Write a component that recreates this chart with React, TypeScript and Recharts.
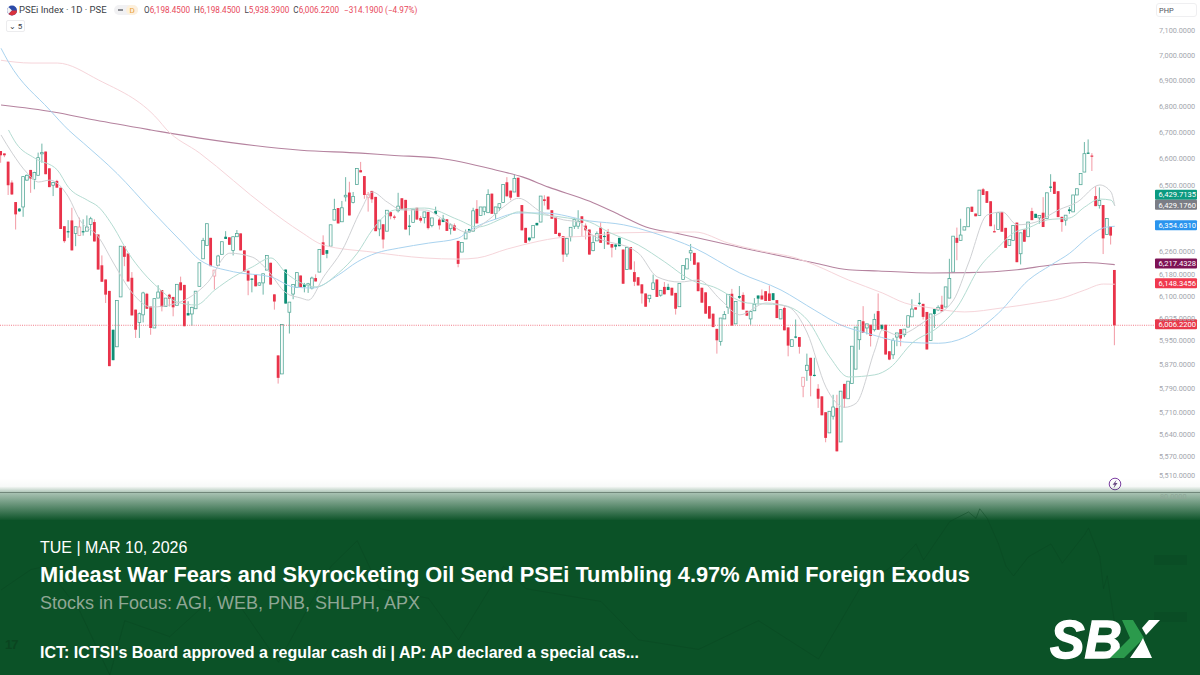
import React from "react";
import { ComposedChart, LineChart, Bar, Line, XAxis, YAxis, ReferenceLine } from "recharts";

type Row = [number, number, number, number, string];
// rows: body top, body bottom, high, low, kind (G hollow green, g solid green, R solid red, r hollow red)
const candlesA: Row[] = [
[6633,6617,6633,6589,"R"],[6624,6617,6624,6610,"R"],[6593,6505,6593,6469,"R"],[6515,6471,6523,6469,"R"],[6443,6398,6443,6343,"R"],
[6419,6409,6421,6407,"g"],[6537,6425,6537,6389,"G"],[6542,6524,6545,6522,"G"],[6562,6530,6562,6477,"R"],[6552,6527,6555,6490,"G"],
[6608,6542,6627,6542,"G"],[6627,6624,6661,6589,"G"],[6631,6546,6631,6546,"R"],[6568,6498,6568,6498,"R"],[6515,6505,6517,6465,"G"],
[6521,6496,6525,6496,"R"],[6496,6345,6496,6345,"R"],[6355,6301,6355,6295,"R"],[6337,6335,6377,6313,"g"],[6376,6268,6422,6268,"R"],
[6353,6329,6353,6283,"G"],[6352,6321,6386,6321,"r"],[6337,6336,6380,6321,"g"],[6352,6337,6394,6337,"G"],[6382,6361,6389,6321,"G"],
[6370,6300,6380,6300,"R"],[6325,6200,6325,6200,"R"],[6215,6157,6250,6157,"R"],[6165,6112,6165,6083,"R"],[6125,5868,6125,5868,"R"],
[5991,5888,5991,5888,"g"],[6092,5933,6092,5933,"G"],[6283,6104,6283,6104,"G"],[6283,6245,6283,6212,"R"],[6257,6158,6257,6158,"R"],
[6171,6040,6191,6040,"R"],[6060,5991,6060,5963,"R"],[6046,6016,6050,5963,"G"],[6118,6042,6122,6016,"G"],[6115,6063,6118,6063,"R"],
[6071,5997,6071,5974,"R"],[6098,5997,6098,5997,"G"],[6121,6100,6145,6100,"G"],[6128,6069,6128,6054,"R"],[6100,6071,6100,6071,"G"],
[6112,6098,6115,6071,"R"],[6104,6068,6104,6037,"R"],[6148,6075,6148,6075,"G"],[6155,6127,6175,6127,"R"],[6146,6003,6146,6003,"R"],
[6048,6040,6089,6040,"g"],[6068,6045,6070,6005,"G"],[6124,6063,6124,6063,"G"],[6224,6141,6224,6141,"G"],[6304,6238,6313,6238,"G"],
[6364,6286,6364,6286,"G"],[6313,6212,6313,6212,"R"],[6198,6177,6198,6130,"r"],[6248,6214,6252,6214,"G"],[6299,6254,6299,6254,"G"],
[6317,6309,6337,6309,"g"],[6315,6288,6315,6288,"R"],[6317,6268,6317,6250,"G"],[6329,6317,6341,6317,"G"],[6329,6268,6329,6268,"R"],
[6268,6193,6268,6193,"R"],[6196,6161,6196,6110,"R"],[6168,6165,6170,6120,"g"],[6183,6141,6183,6141,"R"],[6153,6145,6155,6143,"G"],
[6185,6153,6185,6112,"G"],[6250,6198,6250,6198,"G"],[6224,6147,6224,6147,"R"],[6113,6088,6113,6060,"R"],[5904,5829,5904,5810,"R"],
];
const candlesB: Row[] = [
[6009,5842,6009,5842,"G"],[6200,6081,6200,6081,"g"],[6086,6051,6086,5978,"G"],[6147,6114,6147,6096,"G"],[6189,6137,6189,6137,"G"],
[6179,6138,6179,6138,"R"],[6148,6139,6153,6120,"g"],[6150,6145,6153,6118,"G"],[6170,6135,6175,6130,"G"],[6170,6158,6183,6158,"R"],
[6271,6191,6271,6191,"G"],[6297,6252,6322,6252,"R"],[6269,6256,6269,6240,"g"],[6360,6283,6360,6283,"G"],[6416,6377,6455,6377,"G"],
[6421,6365,6421,6365,"R"],[6422,6371,6447,6371,"G"],[6468,6462,6535,6445,"G"],[6478,6394,6518,6394,"R"],[6463,6441,6480,6438,"G"],
[6567,6508,6567,6508,"G"],[6561,6553,6592,6553,"R"],[6539,6469,6539,6455,"R"],[6471,6459,6480,6408,"r"],[6484,6453,6484,6440,"R"],
[6462,6337,6462,6337,"R"],[6377,6345,6377,6319,"G"],[6362,6307,6362,6275,"R"],[6413,6337,6413,6337,"G"],[6406,6391,6406,6380,"R"],
[6390,6386,6396,6379,"R"],[6428,6411,6477,6405,"G"],[6457,6416,6457,6416,"R"],[6451,6343,6451,6343,"R"],[6357,6353,6396,6322,"g"],
[6416,6369,6416,6369,"G"],[6422,6379,6422,6379,"R"],[6385,6375,6392,6368,"R"],[6407,6386,6407,6365,"G"],[6407,6348,6407,6343,"R"],
[6385,6358,6385,6351,"G"],[6410,6399,6426,6399,"g"],[6379,6358,6385,6343,"R"],[6382,6370,6396,6370,"g"],[6380,6338,6380,6338,"R"],
[6360,6346,6365,6325,"G"],[6358,6339,6365,6339,"R"],[6302,6220,6302,6208,"R"],[6296,6262,6296,6262,"G"],[6331,6309,6343,6309,"G"],
[6345,6333,6345,6333,"g"],[6411,6337,6422,6337,"G"],[6418,6365,6450,6365,"R"],[6425,6394,6425,6394,"G"],[6425,6409,6425,6395,"G"],
[6471,6404,6490,6404,"G"],[6474,6400,6474,6400,"R"],[6425,6401,6425,6381,"G"],[6437,6422,6437,6410,"G"],[6508,6441,6508,6441,"G"],
[6516,6464,6535,6464,"R"],[6485,6459,6485,6450,"R"],[6530,6480,6545,6480,"G"],[6533,6462,6533,6462,"R"],[6432,6340,6432,6340,"R"],
[6349,6295,6349,6295,"R"],[6314,6304,6314,6300,"g"],[6358,6313,6358,6313,"G"],[6367,6358,6367,6358,"g"],[6465,6370,6465,6370,"G"],
[6453,6447,6468,6430,"R"],[6463,6416,6463,6416,"R"],[6413,6382,6413,6382,"R"],[6387,6327,6387,6327,"R"],[6331,6319,6331,6315,"R"],
[6319,6253,6319,6227,"R"],[6311,6255,6311,6245,"G"],[6351,6317,6351,6300,"G"],[6379,6355,6385,6345,"G"],[6373,6355,6413,6345,"G"],
[6391,6367,6391,6317,"R"],[6357,6340,6365,6307,"R"],[6343,6253,6343,6253,"R"],
];
const candlesC: Row[] = [
[6296,6267,6320,6265,"G"],[6328,6302,6336,6302,"G"],[6350,6295,6369,6295,"R"],[6320,6317,6335,6273,"g"],[6334,6289,6345,6289,"R"],
[6291,6278,6291,6243,"R"],[6289,6281,6289,6270,"g"],[6313,6283,6313,6283,"g"],[6271,6150,6271,6150,"R"],[6279,6200,6279,6200,"G"],
[6280,6200,6280,6200,"R"],[6191,6157,6229,6142,"R"],[6173,6144,6173,6144,"R"],[6148,6116,6148,6081,"R"],[6116,6070,6116,6070,"R"],
[6110,6098,6110,6085,"G"],[6153,6130,6182,6130,"G"],[6165,6104,6165,6104,"R"],[6127,6110,6127,6105,"G"],[6139,6113,6156,6113,"R"],
[6139,6128,6150,6128,"g"],[6136,6109,6136,6109,"R"],[6118,6063,6118,6043,"R"],[6151,6070,6151,6070,"G"],[6214,6165,6214,6165,"G"],
[6238,6202,6238,6202,"G"],[6267,6259,6291,6230,"G"],[6259,6217,6259,6217,"R"],[6225,6124,6225,6124,"R"],[6136,6084,6136,6084,"R"],
[6120,6046,6120,6046,"R"],[6072,6029,6072,6029,"R"],[6046,6000,6046,6000,"R"],[5994,5955,5994,5910,"R"],[6031,5951,6031,5937,"G"],
[6043,6028,6055,6028,"G"],[6113,6067,6113,6045,"G"],[6115,6005,6132,6005,"R"],[6088,6011,6088,6011,"G"],[6107,6101,6142,6097,"g"],
[6111,6060,6120,6060,"R"],[6056,6039,6056,6039,"R"],[6054,6028,6054,6008,"G"],[6079,6056,6100,6056,"G"],[6109,6098,6109,6077,"g"],
[6109,6095,6130,6095,"R"],[6124,6090,6124,6090,"R"],[6116,6090,6144,6090,"R"],[6117,6093,6117,6093,"g"],[6093,6031,6093,6031,"R"],
[6060,6028,6060,6028,"G"],[6066,5989,6072,5989,"R"],[5999,5937,5999,5901,"R"],[5957,5934,5957,5934,"G"],[5968,5966,6026,5962,"g"],
[5966,5933,5966,5910,"R"],[5831,5801,5831,5765,"r"],[5871,5854,5910,5819,"G"],[5896,5836,5896,5768,"R"],[5839,5837,5896,5834,"g"],
[5793,5760,5808,5730,"R"],[5768,5706,5768,5706,"R"],[5716,5633,5716,5619,"R"],[5719,5649,5719,5649,"G"],[5733,5703,5773,5692,"G"],
[5730,5590,5773,5590,"R"],[5785,5620,5785,5620,"G"],[5809,5760,5809,5730,"R"],[5818,5760,5818,5760,"G"],[5935,5810,5935,5810,"G"],
[6000,5858,6000,5858,"G"],[6023,5957,6023,5923,"G"],[6020,5980,6072,5980,"R"],[6011,5997,6011,5975,"G"],[6008,5970,6008,5934,"R"],
[6026,5991,6046,5985,"G"],[6055,5991,6116,5991,"R"],
];
const candlesD: Row[] = [
[6008,5994,6008,5990,"g"],[6008,5907,6008,5907,"R"],[5918,5890,5918,5888,"R"],[5955,5906,5963,5892,"G"],[5980,5966,5980,5935,"G"],
[5993,5961,5993,5935,"R"],[5993,5974,5993,5966,"G"],[6039,6000,6039,6000,"G"],[6062,6035,6096,6035,"G"],[6068,6060,6068,6060,"R"],
[6084,6082,6118,6075,"g"],[6080,6035,6080,6026,"R"],[6052,5924,6052,5924,"R"],[6045,5954,6045,5954,"G"],[6062,6045,6062,5997,"g"],
[6068,6059,6075,6055,"G"],[6077,6054,6108,6054,"R"],[6139,6069,6139,6069,"G"],[6168,6100,6238,6100,"G"],[6319,6191,6319,6191,"G"],
[6313,6295,6350,6233,"R"],[6323,6304,6382,6304,"G"],[6353,6341,6353,6341,"G"],[6422,6353,6422,6353,"G"],[6426,6407,6426,6407,"R"],
[6401,6391,6401,6391,"R"],[6487,6394,6487,6394,"G"],[6490,6469,6495,6469,"R"],[6483,6440,6483,6440,"R"],[6446,6355,6446,6355,"R"],
[6337,6333,6361,6333,"R"],[6404,6343,6404,6343,"G"],[6406,6335,6406,6335,"R"],[6349,6277,6349,6277,"R"],[6307,6286,6307,6286,"G"],
[6358,6304,6358,6304,"G"],[6368,6226,6368,6226,"R"],[6331,6256,6331,6218,"G"],[6343,6299,6343,6299,"R"],[6370,6317,6370,6317,"G"],
[6410,6377,6422,6377,"R"],[6400,6385,6400,6385,"g"],[6394,6385,6394,6364,"G"],[6404,6352,6461,6352,"R"],[6477,6383,6477,6383,"G"],
[6500,6496,6546,6480,"g"],[6518,6473,6518,6473,"R"],[6483,6388,6483,6388,"R"],[6389,6370,6389,6335,"R"],[6395,6377,6395,6357,"G"],
[6416,6410,6425,6400,"g"],[6469,6407,6469,6407,"G"],[6492,6469,6492,6469,"G"],[6549,6507,6549,6507,"G"],[6623,6554,6667,6554,"G"],
[6627,6624,6677,6624,"g"],[6616,6613,6625,6558,"R"],[6465,6428,6502,6428,"R"],[6449,6431,6497,6419,"G"],[6432,6311,6432,6255,"R"],
[6383,6325,6383,6325,"G"],[6355,6321,6355,6289,"R"],[6198.45,6006.22,6198.45,5938.39,"R"],
];

// moving averages, read at the candle indices named by the first number
const ma10: [number, number][] = [[0,6694],[3,6625],[7,6550],[10,6517],[13,6524],[18,6461],[21,6378],[26,6316],[30,6223],[35,6118],[40,6069],[47,6083],[55,6153],[61,6258],[67,6244],[71,6199],[76,6118],[80,6100],[82,6093],[86,6174],[91,6269],[96,6414],[99,6480],[103,6443],[107,6414],[113,6414],[119,6370],[124,6334],[130,6378],[134,6425],[138,6457],[144,6407],[150,6378],[154,6370],[157,6330],[170,6258],[175,6174],[181,6156],[186,6163],[192,6093],[197,6042],[204,6083],[210,6069],[215,5980],[220,5798],[225,5732],[228,5745],[233,5922],[235,5990],[239,5973],[247,6025],[254,6093],[258,6223],[263,6396],[267,6407],[271,6360],[276,6370],[282,6414],[287,6443],[293,6506],[296,6480],[297,6429.176]];
const ma20: [number, number][] = [[2,6713],[4,6663],[9,6606],[15,6562],[18,6497],[23,6450],[26,6425],[30,6352],[34,6258],[38,6188],[42,6135],[47,6086],[52,6076],[57,6128],[62,6174],[67,6209],[72,6241],[76,6188],[80,6153],[84,6139],[90,6188],[95,6258],[99,6341],[105,6414],[113,6421],[122,6378],[127,6352],[134,6385],[138,6407],[145,6396],[151,6385],[157,6370],[162,6334],[170,6287],[177,6227],[184,6163],[190,6139],[199,6083],[208,6076],[215,6025],[221,5899],[226,5832],[233,5839],[237,5862],[243,5946],[250,6001],[255,6069],[261,6209],[266,6280],[270,6331],[274,6349],[279,6378],[285,6385],[289,6425],[293,6454],[296,6450],[297,6429.7135]];
const ma50: [number, number][] = [[0,7033],[2,6978],[13,6790],[18,6713],[22,6663],[31,6548],[40,6414],[49,6287],[53,6234],[62,6192],[72,6174],[78,6139],[83,6135],[90,6181],[95,6227],[100,6258],[106,6276],[114,6294],[122,6312],[125,6341],[132,6381],[138,6403],[145,6403],[157,6374],[166,6360],[174,6331],[185,6276],[197,6188],[208,6128],[217,6058],[224,6007],[231,5979],[241,5949],[250,5945],[257,5965],[266,6048],[274,6163],[280,6216],[285,6258],[290,6316],[294,6349],[297,6354.631]];
const ma100: [number, number][] = [[0,6985],[8,6974],[15,6974],[26,6907],[42,6751],[44,6717],[53,6625],[71,6421],[80,6334],[86,6287],[99,6262],[113,6241],[122,6237],[127,6241],[135,6273],[139,6287],[148,6312],[157,6320],[165,6331],[185,6334],[194,6294],[203,6265],[212,6241],[217,6216],[226,6163],[235,6118],[241,6083],[248,6066],[257,6052],[267,6066],[276,6083],[283,6100],[289,6128],[294,6149],[297,6148.3456]];
const ma200: [number, number][] = [[0,6809],[14,6782],[25,6751],[40,6713],[53,6682],[80,6636],[96,6625],[104,6617],[117,6606],[133,6558],[139,6536],[146,6498],[157,6446],[165,6396],[172,6352],[181,6327],[199,6273],[217,6223],[226,6199],[234,6195],[248,6188],[258,6189],[271,6199],[280,6216],[289,6225],[297,6217.4328]];
const oscillator: [number, number][] = [[0,50.6],[8,57],[12,58],[21,44],[29,24],[33,41],[45,36],[60,52],[74,28],[80,41],[88,58],[95,66],[101,51],[114,48],[122,35],[134,58],[140,51],[160,47],[170,35],[186,32],[202,41],[218,29],[229,51],[240,60],[244,65],[246,60],[253,72],[258,75],[260,73],[261,76],[263,73],[266,65],[268,58],[270,55],[274,61],[280,65],[283,59],[289,68],[290,70],[293,61],[294,51],[295,55],[297,40]];

const priceTicks = [7100,7000,6900,6800,6700,6600,6500,6260,6180,6100,6025,5950,5870,5790,5710,5640,5570,5510];
const priceTags = [
  { value: 6429.7135, fill: "#0b9a80", shift: -10 },
  { value: 6429.176, fill: "#7b7d85", shift: 0 },
  { value: 6354.631, fill: "#2a94ee", shift: 0 },
  { value: 6217.4328, fill: "#7e1255", shift: 0 },
  { value: 6148.3456, fill: "#f0394e", shift: 0 },
  { value: 6006.22, fill: "#e8384a", shift: 0 },
];
const lastClose = 6006.22;
const ohlcText = ["O", "6,198.4500", "H", "6,198.4500", "L", "5,938.3900", "C", "6,006.2200"];
const changeText = "−314.1900 (−4.97%)";

const allRows = [...candlesA, ...candlesB, ...candlesC, ...candlesD];
const table = allRows.map((r, i) => {
  const hollow = r[4] === "G" || r[4] === "r";
  return {
    i,
    open: hollow ? r[1] : r[0],
    close: hollow ? r[0] : r[1],
    kind: r[4],
    range: [Math.min(r[3], r[1]) - 0.01, Math.max(r[2], r[0]) + 0.01],
  };
});
const toPoints = (list: [number, number][]) => list.map(([i, v]) => ({ i, v }));
const maSeries = [
  { name: "MA200", points: toPoints(ma200), stroke: "#b5839f", width: 1.1 },
  { name: "MA100", points: toPoints(ma100), stroke: "#f6d5da", width: 1 },
  { name: "MA50", points: toPoints(ma50), stroke: "#a9d3ef", width: 1 },
  { name: "MA20", points: toPoints(ma20), stroke: "#b4dcd2", width: 1 },
  { name: "MA10", points: toPoints(ma10), stroke: "#cfd1d4", width: 1 },
];
const oscTable = toPoints(oscillator);

const RED = "#e9334a";
const RED_WICK = "#f08d9a";
const GREEN = "#4da594";
const GREEN_SOLID = "#0e8f76";
const GREEN_WICK = "#5fae9e";

const Candle = (props: any) => {
  const { x, y, width, height, payload } = props;
  const d = payload;
  if (!d || !isFinite(y) || !isFinite(height)) return null;
  const top = Math.min(y, y + height);
  const span = Math.abs(height);
  const hi = Math.log(d.range[1]);
  const lo = Math.log(d.range[0]);
  const at = (p: number) => top + (span * (hi - Math.log(p))) / (hi - lo);
  const a = at(Math.max(d.open, d.close));
  const b = at(Math.min(d.open, d.close));
  const cx = x + width / 2;
  const isRed = d.kind === "R" || d.kind === "r";
  const wick = isRed ? RED_WICK : GREEN_WICK;
  const hollow = d.kind === "G" || d.kind === "r";
  const w = 2.8;
  const bodyH = Math.max(b - a, 1.2);
  return (
    <g>
      <line x1={cx} x2={cx} y1={top} y2={top + span} stroke={wick} strokeWidth={0.9} />
      {hollow ? (
        <rect x={cx - w / 2} y={a} width={w} height={bodyH} fill="#fbfdfc" stroke={isRed ? "#ef9aa5" : GREEN} strokeWidth={0.75} />
      ) : (
        <rect x={cx - w / 2} y={a} width={w} height={bodyH} fill={isRed ? RED : GREEN_SOLID} />
      )}
    </g>
  );
};

const Tag = ({ viewBox, value, fill, shift }: any) => {
  const right = viewBox.x + viewBox.width;
  const cy = viewBox.y + shift - 1;
  return (
    <g>
      <rect x={right - 1} y={cy - 5} width={42} height={10} rx={1} fill={fill} />
      <text x={right + 2.5} y={cy + 2.8} fontSize={7.6} fontFamily="Roboto" fill="#ffffff">
        {value.toLocaleString("en-US", { minimumFractionDigits: 4, maximumFractionDigits: 4 })}
      </text>
    </g>
  );
};

const PriceTick = ({ x, y, payload }: any) => (
  <text x={x - 5} y={y + 1.3} fontSize={7.3} fontFamily="Roboto" fill="#a3a6ad">
    {payload.value.toLocaleString("en-US", { minimumFractionDigits: 4 })}
  </text>
);

const abs = (left: number, top: number, extra: React.CSSProperties = {}): React.CSSProperties => ({
  position: "absolute",
  left,
  top,
  whiteSpace: "nowrap",
  ...extra,
});
const sans = "'Liberation Sans', Arial, sans-serif";
const X_DOMAIN: [number, number] = [-0.267, 308];

export default function App() {
  return (
    <div style={{ position: "fixed", left: 0, top: 0, width: 1200, height: 675, overflow: "hidden", background: "#ffffff" }}>
      <ComposedChart width={1200} height={492} data={table} margin={{ top: 0, right: 0, bottom: 0, left: 0 }} style={{ position: "absolute", left: 0, top: 0 }}>
        <XAxis dataKey="i" type="number" domain={X_DOMAIN} hide allowDataOverflow />
        <YAxis
          orientation="right"
          width={44}
          scale="log"
          domain={[5462, 7229]}
          allowDataOverflow
          ticks={priceTicks}
          interval={0}
          axisLine={false}
          tickLine={false}
          tick={<PriceTick />}
        />
        {maSeries.map((s) => (
          <Line key={s.name} data={s.points} dataKey="v" name={s.name} type="monotone" dot={false} activeDot={false} stroke={s.stroke} strokeWidth={s.width} isAnimationActive={false} />
        ))}
        <ReferenceLine y={lastClose} stroke="#ef5a6b" strokeWidth={0.8} strokeDasharray="1 1.2" />
        <Bar dataKey="range" barSize={3} shape={<Candle />} activeBar={false} isAnimationActive={false} />
        {priceTags.map((t) => (
          <ReferenceLine key={t.value} y={t.value} stroke="none" label={<Tag value={t.value} fill={t.fill} shift={t.shift} />} />
        ))}
      </ComposedChart>

      {/* header */}
      <svg width={18} height={18} style={abs(5, 1)}>
        <circle cx={7} cy={9.5} r={5} fill="#2b4aa8" />
        <path d="M7 9.5 L3.5 6 A5 5 0 0 0 3.5 13 Z" fill="#f3f3f3" />
        <path d="M7 9.5 L12 9.5 A5 5 0 0 1 3.5 13 Z" fill="#d8323c" />
      </svg>
      <div style={abs(19, 4, { font: "9.5px Roboto", color: "#3a3d45", lineHeight: "12px" })}>PSEi Index · 1D · PSE</div>
      <div style={abs(114, 5, { width: 24, height: 10, borderRadius: 5, background: "#f1f1f3" })} />
      <div style={abs(126, 5, { width: 12, height: 10, borderRadius: 5, background: "#fdf0dc" })} />
      <div style={abs(118, 9, { width: 5, height: 1.6, background: "#8a8c92" })} />
      <div style={abs(129.5, 5, { font: "8px Roboto", color: "#e8a13a", lineHeight: "11px" })}>D</div>
      <div style={abs(144, 4, { font: "8.15px Roboto", lineHeight: "12px", color: "#e8475a", letterSpacing: 0.02 })}>
        {ohlcText.map((t, k) => (
          <span key={k} style={{ color: k % 2 === 0 ? "#44464e" : "#e8475a", marginRight: k % 2 === 1 ? 4 : 0 }}>{t}</span>
        ))}
        <span style={{ marginLeft: 1 }}>{changeText}</span>
      </div>
      <div style={abs(6, 20, { width: 19, height: 12, border: "1px solid #ececee", borderRadius: 2, font: "8px Roboto", color: "#3a3d45", lineHeight: "11px", textAlign: "center", boxSizing: "border-box" })}>⌄ 5</div>
      <div style={abs(1156, 3, { width: 41, height: 14, border: "1px solid #efeff1", borderRadius: 3, boxSizing: "border-box", font: "7.4px Roboto", color: "#50535b", lineHeight: "13px", paddingLeft: 2 })}>PHP</div>
      <svg width={16} height={16} style={abs(1107, 476)}>
        <circle cx={8} cy={8} r={5.8} fill="#ffffff" stroke="#7d3fa3" strokeWidth={1} />
        <path d="M9.6 3.8 L5.6 8.8 L7.7 8.8 L6.6 12.2 L10.5 7.1 L8.3 7.1 Z" fill="#6a4a86" />
      </svg>

      {/* banner */}
      <div style={abs(0, 478, { width: 1200, height: 42, background: "linear-gradient(to bottom, rgba(11,82,39,0) 0%, rgba(11,82,39,0.03) 20%, rgba(11,82,39,0.35) 35%, rgba(11,82,39,0.98) 100%)" })} />
      <div style={abs(0, 520, { width: 1200, height: 155, background: "#0b5227" })} />
      <div style={abs(0, 492, { width: 1200, height: 1, background: "#71877a" })} />
      <div style={abs(1160, 492, { font: "7.3px Roboto", color: "#8fa798", lineHeight: "10px" })}>80.0000</div>
      <div style={abs(1154, 555, { width: 33, height: 10, background: "#0a4d25" })} />
      <div style={abs(1154, 612, { width: 33, height: 10, background: "#0a4d25" })} />
      <LineChart width={1200} height={183} data={oscTable} margin={{ top: 0, right: 44, bottom: 0, left: 0 }} style={{ position: "absolute", left: 0, top: 492 }}>
        <XAxis dataKey="i" type="number" domain={X_DOMAIN} hide allowDataOverflow />
        <YAxis orientation="right" width={44} domain={[24, 81.25]} hide allowDataOverflow />
        <Line dataKey="v" dot={false} activeDot={false} stroke="#0a4520" strokeOpacity={0.55} strokeWidth={0.8} isAnimationActive={false} />
      </LineChart>
      <div style={abs(5, 637, { font: "bold 13px " + sans, color: "#0a4520", letterSpacing: -1 })}>17</div>

      <div style={abs(40, 539, { font: "16px " + sans, color: "#ffffff", lineHeight: "18px" })}>TUE | MAR 10, 2026</div>
      <div style={abs(40, 562, { font: "bold 22px " + sans, color: "#ffffff", lineHeight: "26px", transform: "scaleX(0.99)", transformOrigin: "left" })}>Mideast War Fears and Skyrocketing Oil Send PSEi Tumbling 4.97% Amid Foreign Exodus</div>
      <div style={abs(40, 593, { font: "18px " + sans, color: "#8fa795", lineHeight: "20px" })}>Stocks in Focus: AGI, WEB, PNB, SHLPH, APX</div>
      <div style={abs(40, 643, { font: "bold 16px " + sans, color: "#ffffff", lineHeight: "20px" })}>ICT: ICTSI's Board approved a regular cash di | AP: AP declared a special cas...</div>

      {/* SBX mark */}
      <svg width={125} height={70} style={abs(1045, 604)} viewBox="0 0 125 70">
        <text x={5} y={54} fontFamily={sans} fontWeight={700} fontStyle="italic" fontSize={54} fill="#ffffff" stroke="#ffffff" strokeWidth={1.4} textLength={72} lengthAdjust="spacingAndGlyphs">SB</text>
        <polygon points="77,16 88,16 99,34 79,54 65,54 85,34" fill="#2b9a4c" />
        <polygon points="115,16 104,16 97,24 101,31" fill="#ffffff" />
        <polygon points="94,41 85,54 107,54 98,34" fill="#ffffff" />
      </svg>
    </div>
  );
}
